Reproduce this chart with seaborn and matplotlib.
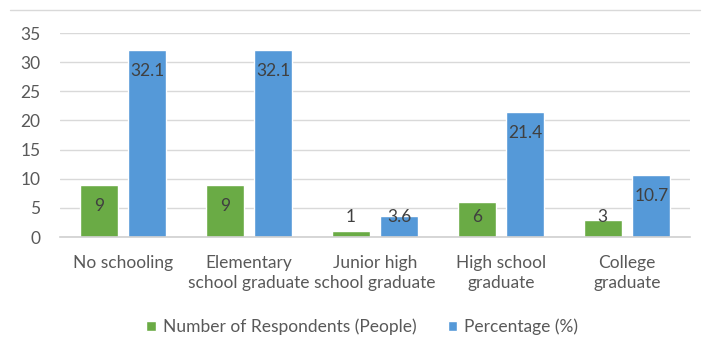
import matplotlib
matplotlib.use("Agg")
import matplotlib.pyplot as plt
import seaborn as sns
import pandas as pd
from matplotlib.lines import Line2D

categories = ["No schooling", "Elementary\nschool graduate", "Junior high\nschool graduate",
              "High school\ngraduate", "College\ngraduate"]
respondents = [9, 9, 1, 6, 3]
percentage = [32.1, 32.1, 3.6, 21.4, 10.7]
series_names = ["Number of Respondents (People)", "Percentage (%)"]
colors = ["#6aab45", "#5599d8"]

sns.set_theme(style="white")
plt.rcParams['font.family'] = ['Lato', 'DejaVu Sans']

df = pd.DataFrame({
    "cat": categories * 2,
    "val": respondents + percentage,
    "series": [series_names[0]] * 5 + [series_names[1]] * 5,
})

fig = plt.figure(figsize=(7.03, 3.52), dpi=100)
ax = fig.add_axes([60 / 703, 1 - 237 / 352, 630 / 703, 204 / 352])

sns.barplot(data=df, x="cat", y="val", hue="series", palette=colors,
            width=0.77, gap=0.21, ax=ax, legend=True, saturation=1)

FS = 12.5
ax.set_xlim(-0.5, 4.5)
ax.set_ylim(0, 35)
ax.set_yticks(range(0, 36, 5))
ax.yaxis.grid(True, color="#d9d9d9", linewidth=1)
ax.set_axisbelow(True)
for s in ["left", "right", "top"]:
    ax.spines[s].set_visible(False)
ax.spines["bottom"].set_color("#d0d0d0")
ax.spines["bottom"].set_linewidth(1.2)
ax.set_xlabel("")
ax.set_ylabel("")
ax.tick_params(axis="y", labelsize=FS, colors="#595959", length=0, pad=14)
ax.tick_params(axis="x", labelsize=FS, colors="#595959", length=0, pad=13)
for t in ax.get_xticklabels():
    t.set_linespacing(1.3)

for cont in ax.containers:
    for bar in cont:
        h = bar.get_height()
        xc = bar.get_x() + bar.get_width() / 2
        ypos = max(h - 3.6, 3.4)
        lab = f"{h:g}"
        ax.text(xc, ypos, lab, ha="center", va="center", fontsize=FS, color="#404040")

leg = ax.legend(loc="center", bbox_to_anchor=(0.48, -0.44), ncol=2, frameon=False,
                fontsize=FS, handlelength=0.55, handleheight=0.55, columnspacing=1.8,
                handletextpad=0.4, labelcolor="#595959")

fig.add_artist(Line2D([10 / 703, 700 / 703], [1 - 10 / 352, 1 - 10 / 352],
                      color="#d9d9d9", linewidth=1))

fig.savefig("out.png", dpi=100)
